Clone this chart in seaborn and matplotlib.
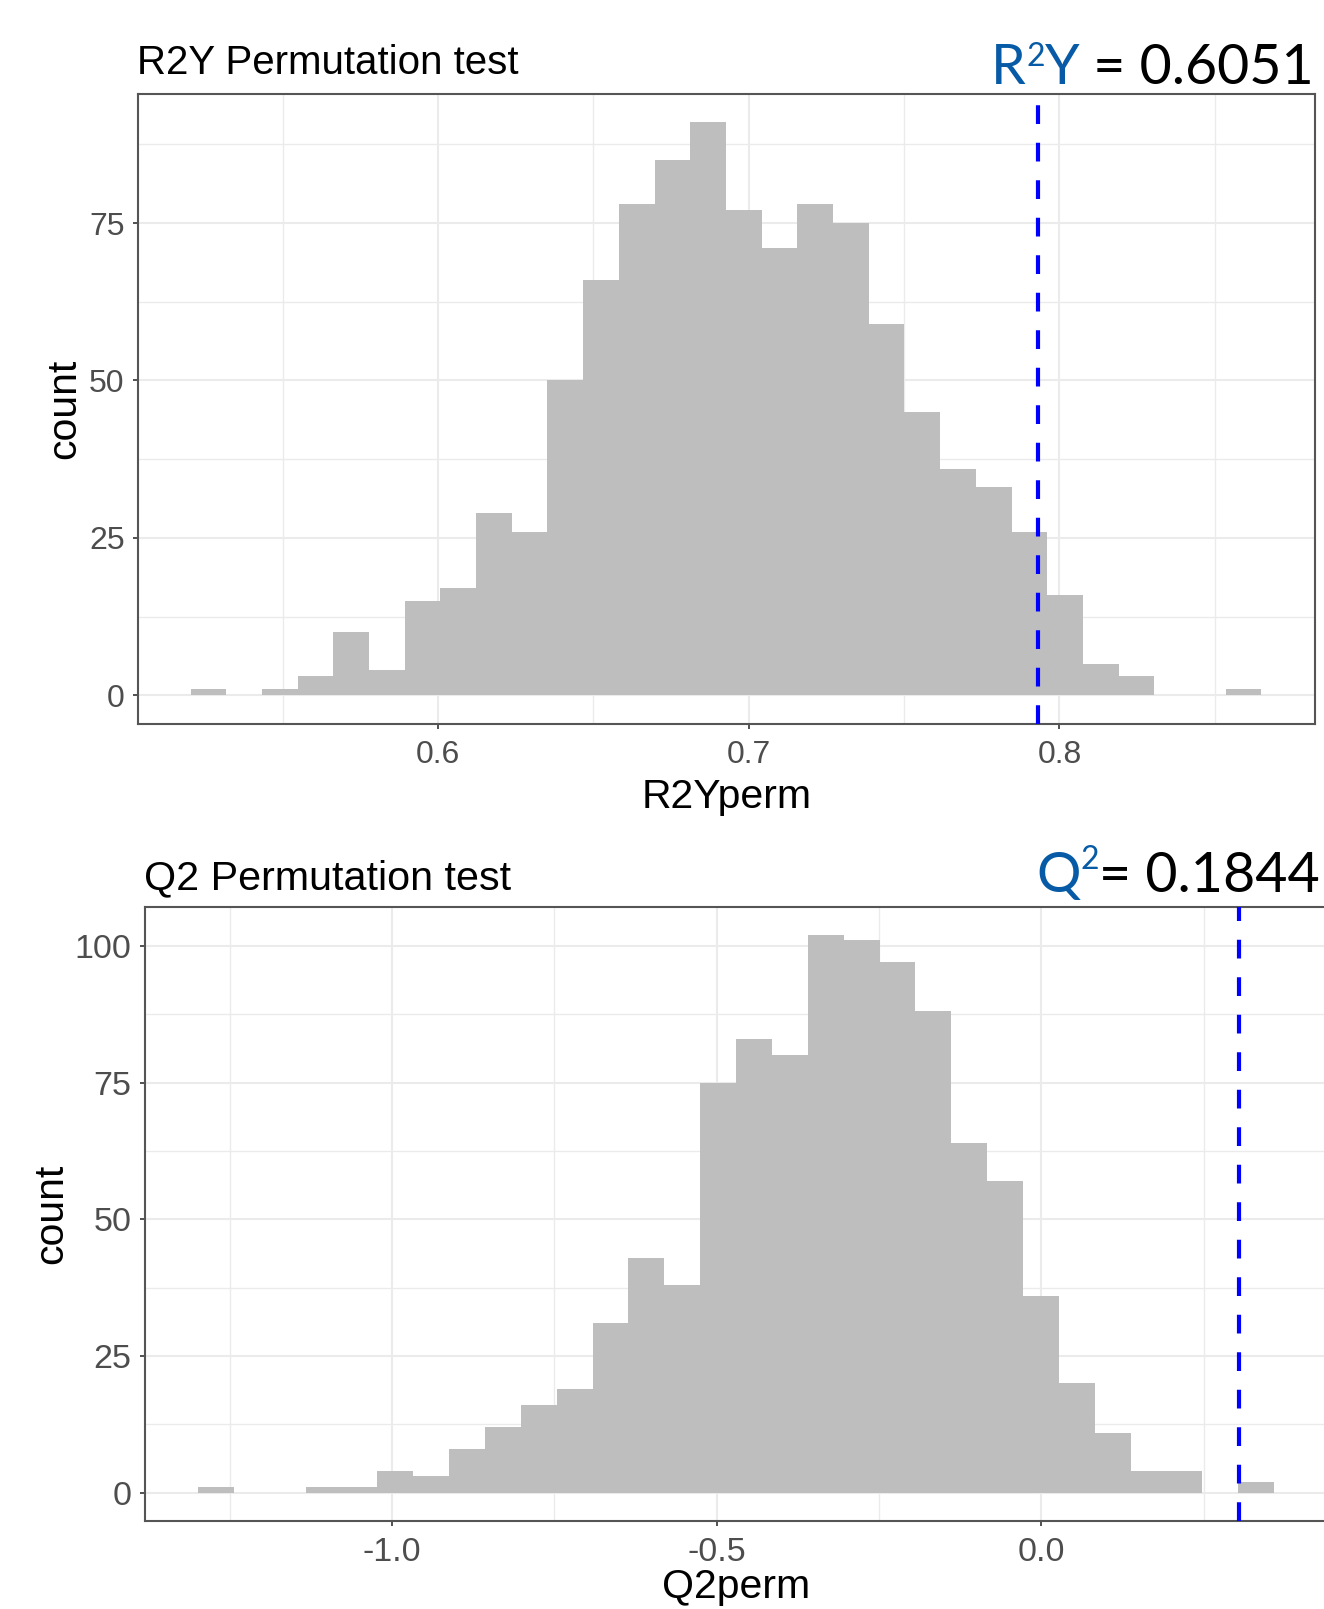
import numpy as np
import pandas as pd
import matplotlib
matplotlib.use("Agg")
import matplotlib.pyplot as plt
import seaborn as sns
from matplotlib.ticker import MultipleLocator, FixedLocator, FormatStrFormatter

# ---------------- data ----------------
r2y_bin_start = 0.5203
r2y_bin_width = 0.01149
r2y_counts = [1, 0, 1, 3, 10, 4, 15, 17, 29, 26, 50, 66, 78, 85, 91,
              77, 71, 78, 75, 59, 45, 36, 33, 26, 16, 5, 3, 0, 0, 1]
r2y_observed = 0.7932
r2y_xticks = [0.6, 0.7, 0.8]
r2y_yticks = [0, 25, 50, 75]
r2y_xlim = (0.5033, 0.8822)
r2y_ylim = (-4.55, 95.55)

q2_bin_start = -1.299
q2_bin_width = 0.05525
q2_counts = [1, 0, 0, 1, 1, 4, 3, 8, 12, 16, 19, 31, 43, 38, 75,
             83, 80, 102, 101, 97, 88, 64, 57, 36, 20, 11, 4, 4, 0, 2]
q2_observed = 0.304
q2_xticks = [-1.0, -0.5, 0.0]
q2_yticks = [0, 25, 50, 75, 100]
q2_xlim = (-1.3815, 0.4415)
q2_ylim = (-5.1, 107.1)

titles = ["R2Y Permutation test", "Q2 Permutation test"]
xlabels = ["R2Yperm", "Q2perm"]
ylabel = "count"
# statistic annotation pieces: (letter before superscript, superscript, letter after, value)
stat_pre = ["R", "Q"]
stat_sup = ["2", "2"]
stat_post = ["Y", ""]
stat_values = [" = 0.6051", "= 0.1844"]

# ---------------- styling ----------------
sns.set_theme(style="white")
plt.rcParams["font.family"] = ["Liberation Sans", "DejaVu Sans"]

W, H = 1324, 1609
fig = plt.figure(figsize=(W / 100, H / 100), dpi=100)

BAR = "#BEBEBE"
GRID = "#EBEBEB"
BORDER = "#555555"
TICKLAB = "#4D4D4D"


def px_axes(left, top, right, bottom):
    return fig.add_axes([left / W, 1 - bottom / H, (right - left) / W, (bottom - top) / H])


def draw_panel(ax, start, width, counts, observed, xticks, yticks, xlim, ylim,
               xminor, xlabel, ticksize, labelsize, xlabelpad, ylabelpad):
    n = len(counts)
    centers = [start + (i + 0.5) * width for i in range(n)]
    df = pd.DataFrame({"value": centers, "count": counts})
    ax.set_axisbelow(True)
    sns.histplot(data=df, x="value", weights="count", bins=n,
                 binrange=(start, start + n * width), color=BAR, alpha=1,
                 linewidth=0, edgecolor=BAR, ax=ax)
    ax.axvline(observed, color="#0000FF", lw=3.0, ls=(0, (4.5, 4.5)), zorder=5)
    ax.set_xlim(*xlim)
    ax.set_ylim(*ylim)
    ax.xaxis.set_major_locator(FixedLocator(xticks))
    ax.yaxis.set_major_locator(FixedLocator(yticks))
    ax.xaxis.set_minor_locator(MultipleLocator(xminor))
    ax.yaxis.set_minor_locator(MultipleLocator(12.5))
    ax.xaxis.set_major_formatter(FormatStrFormatter("%.1f"))
    ax.grid(which="major", color=GRID, lw=1.5)
    ax.grid(which="minor", color=GRID, lw=1.0)
    ax.tick_params(which="major", direction="out", length=3.5, width=1.2,
                   color="#333333", labelsize=ticksize, labelcolor=TICKLAB,
                   bottom=True, left=True)
    ax.tick_params(axis="x", which="major", pad=8)
    ax.tick_params(axis="y", which="major", pad=6)
    ax.tick_params(which="minor", length=0)
    for s in ax.spines.values():
        s.set_color(BORDER)
        s.set_linewidth(1.5)
        s.set_visible(True)
    ax.set_xlabel(xlabel, fontsize=labelsize, color="black", labelpad=xlabelpad)
    ax.set_ylabel(ylabel, fontsize=labelsize, color="black", labelpad=ylabelpad)


ax1 = px_axes(137.7, 93.7, 1314.8, 723.9)
draw_panel(ax1, r2y_bin_start, r2y_bin_width, r2y_counts, r2y_observed,
           r2y_xticks, r2y_yticks, r2y_xlim, r2y_ylim, 0.05, xlabels[0],
           23, 29.5, 6, 4)

ax2 = px_axes(144.5, 907.0, 1328.0, 1520.6)
draw_panel(ax2, q2_bin_start, q2_bin_width, q2_counts, q2_observed,
           q2_xticks, q2_yticks, q2_xlim, q2_ylim, 0.25, xlabels[1],
           24.5, 29.5, 0.5, 3)
ax2.spines["right"].set_visible(False)

# titles
fig.text(137 / W, 1 - 74 / H, titles[0], fontsize=29, color="black",
         ha="left", va="baseline")
fig.text(144 / W, 1 - 889 / H, titles[1], fontsize=29.7, color="black",
         ha="left", va="baseline")

# statistic annotations (blue name with superscript + black value)
ANN = ["Lato", "DejaVu Sans"]
BLUE = "#075BA6"
renderer = fig.canvas.get_renderer()


def place_left(x_right_px, y_base_px, s, size, color):
    t = fig.text(x_right_px / W, 1 - y_base_px / H, s, fontsize=size,
                 color=color, ha="right", va="baseline", family=ANN)
    if s == "":
        return x_right_px
    bb = t.get_window_extent(renderer)
    return bb.x0


specs = [(1314, 83.5, 18), (1320, 892, 23)]
for (xr, yb, raise_px), pre, sup, post, val in zip(specs, stat_pre, stat_sup,
                                                   stat_post, stat_values):
    x = place_left(xr, yb, val, 40, "black")
    x = place_left(x, yb, post, 40, BLUE)
    x = place_left(x, yb - raise_px, sup, 23, BLUE)
    x = place_left(x, yb, pre, 40, BLUE)

fig.savefig("out.png", dpi=100)
